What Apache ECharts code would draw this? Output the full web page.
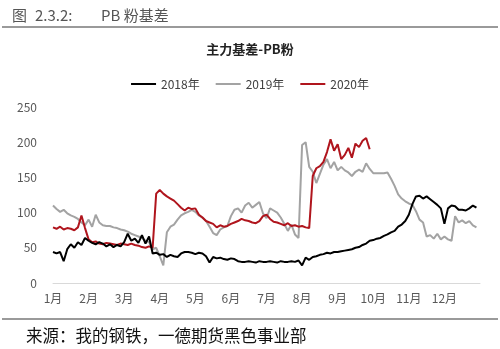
<!DOCTYPE html>
<html>
<head>
<meta charset="utf-8">
<script src="https://cdn.jsdelivr.net/npm/echarts@6/dist/echarts.min.js"></script>
<style>
  html, body { margin: 0; padding: 0; background: #fff; }
  #chart { width: 500px; height: 349px; }
</style>
</head>
<body>
<div id="chart"></div>
<script>
// Month tick labels along the x axis
const monthLabels = ['1月', '2月', '3月', '4月', '5月', '6月', '7月', '8月', '9月', '10月', '11月', '12月'];

// Series names
const seriesNames = ['2018年', '2019年', '2020年'];

// Samples are taken every tenth of a month, starting on 1 January
const samplesPerMonth = 10;

// PB fines main-contract basis, 2018
const basis2018 = [
  44, 42, 44, 31, 48, 55, 50, 58, 54, 64,
  60, 57, 55, 58, 56, 52, 55, 51, 54, 52,
  58, 70, 60, 63, 57, 68, 56, 66, 42, 43,
  40, 41, 37, 40, 38, 37, 42, 44, 44, 43,
  41, 43, 42, 38, 29, 37, 35, 36, 34, 33,
  35, 34, 31, 30, 30, 31, 30, 29, 31, 30,
  30, 31, 30, 29, 31, 30, 30, 31, 30, 32,
  25, 36, 33, 37, 38, 40, 41, 43, 42, 44,
  44, 45, 46, 47, 48, 50, 51, 54, 56, 60,
  61, 63, 64, 67, 69, 72, 74, 80, 83, 88,
  97, 112, 123, 124, 120, 123, 119, 115, 111, 106,
  84, 106, 110, 109, 104, 104, 103, 106, 110, 107
];

// PB fines main-contract basis, 2019
const basis2019 = [
  110, 105, 101, 104, 99, 96, 94, 91, 86, 82,
  90, 80, 97, 86, 82, 81, 81, 79, 78, 76,
  75, 73, 70, 68, 66, 64, 60, 58, 48, 50,
  38, 25, 72, 80, 83, 90, 96, 99, 101, 104,
  101, 96, 93, 88, 80, 71, 68, 76, 79, 81,
  95, 104, 106, 100, 110, 114, 107, 111, 115, 99,
  92, 106, 103, 100, 93, 84, 74, 83, 69, 64,
  196, 200, 165, 158, 142, 155, 168, 176, 163, 172,
  160, 165, 160, 157, 152, 158, 161, 158, 170, 162,
  156, 156, 156, 156, 157, 148, 138, 126, 120, 116,
  113, 111, 102, 90, 86, 66, 68, 63, 70, 62,
  66, 62, 60, 95, 86, 89, 85, 88, 82, 79
];

// PB fines main-contract basis, 2020 (through early October)
const basis2020 = [
  79, 77, 80, 76, 78, 77, 75, 79, 96, 78,
  62, 58, 59, 56, 55, 57, 56, 55, 54, 56,
  55, 54, 56, 54, 53, 51, 50, 52, 50, 127,
  132, 127, 123, 120, 117, 112, 107, 103, 107, 105,
  106, 97, 93, 88, 86, 84, 79, 82, 80, 81,
  84, 86, 88, 91, 89, 88, 86, 85, 88, 95,
  97, 91, 87, 86, 84, 82, 85, 81, 82, 80,
  81, 79, 78, 152, 163, 166, 172, 186, 204, 188,
  197, 176, 182, 192, 178, 198, 193, 202, 206, 190
];

// Y axis ticks
const yMin = 0, yMax = 250, yStep = 50;

const lineColors = ['#000000', '#a3a3a3', '#b0151d'];

function toPoints(values) {
  return values.map((v, i) => [i / samplesPerMonth, v]);
}

const chart = echarts.init(document.getElementById('chart'), null, { renderer: 'canvas' });

const cjk = '"Noto Sans CJK SC", "Noto Sans", sans-serif';
const headStyle = { fontSize: 15, fontWeight: 'normal', color: '#555', fontFamily: cjk };

chart.setOption({
  animation: false,
  backgroundColor: '#ffffff',
  textStyle: { fontFamily: cjk },
  title: [
    { text: '图', left: 7, top: 3, textStyle: headStyle },
    { text: '2.3.2:', left: 30, top: 3, textStyle: headStyle },
    { text: 'PB 粉基差', left: 96, top: 3, textStyle: headStyle },
    {
      text: '主力基差-PB粉',
      left: 'center', top: 38,
      textStyle: { fontSize: 13, fontWeight: 'bold', color: '#222', fontFamily: cjk }
    },
    {
      text: '来源：我的钢铁，一德期货黑色事业部',
      left: 21, top: 322,
      textStyle: { fontSize: 16.5, fontWeight: 'normal', color: '#111', fontFamily: cjk }
    }
  ],
  graphic: [
    { type: 'rect', shape: { x: 2, y: 26, width: 496, height: 2 }, style: { fill: '#9a9a9a' }, silent: true },
    { type: 'rect', shape: { x: 2, y: 318, width: 496, height: 2 }, style: { fill: '#9a9a9a' }, silent: true }
  ],
  legend: {
    data: seriesNames,
    left: 'center', top: 73,
    icon: 'rect',
    itemWidth: 25, itemHeight: 2,
    itemGap: 16,
    textStyle: { fontSize: 12, color: '#404040', fontFamily: cjk }
  },
  grid: { left: 53, right: 20, top: 107, bottom: 66, containLabel: false },
  xAxis: {
    type: 'value',
    min: 0, max: 12, interval: 1,
    axisLine: { show: true, lineStyle: { color: '#d9d9d9', width: 1 } },
    axisTick: { show: false },
    splitLine: { show: false },
    axisLabel: {
      color: '#595959', fontSize: 12, margin: 9,
      formatter: v => monthLabels[v] || ''
    }
  },
  yAxis: {
    type: 'value',
    min: yMin, max: yMax, interval: yStep,
    axisLine: { show: false },
    axisTick: { show: false },
    splitLine: { show: false },
    axisLabel: { color: '#595959', fontSize: 12, margin: 16 }
  },
  series: [basis2018, basis2019, basis2020].map((vals, k) => ({
    name: seriesNames[k],
    type: 'line',
    data: toPoints(vals),
    symbol: 'none',
    z: k === 0 ? 4 : (k === 2 ? 3 : 2),
    lineStyle: { color: lineColors[k], width: 2 },
    itemStyle: { color: lineColors[k] }
  }))
});
</script>
</body>
</html>
